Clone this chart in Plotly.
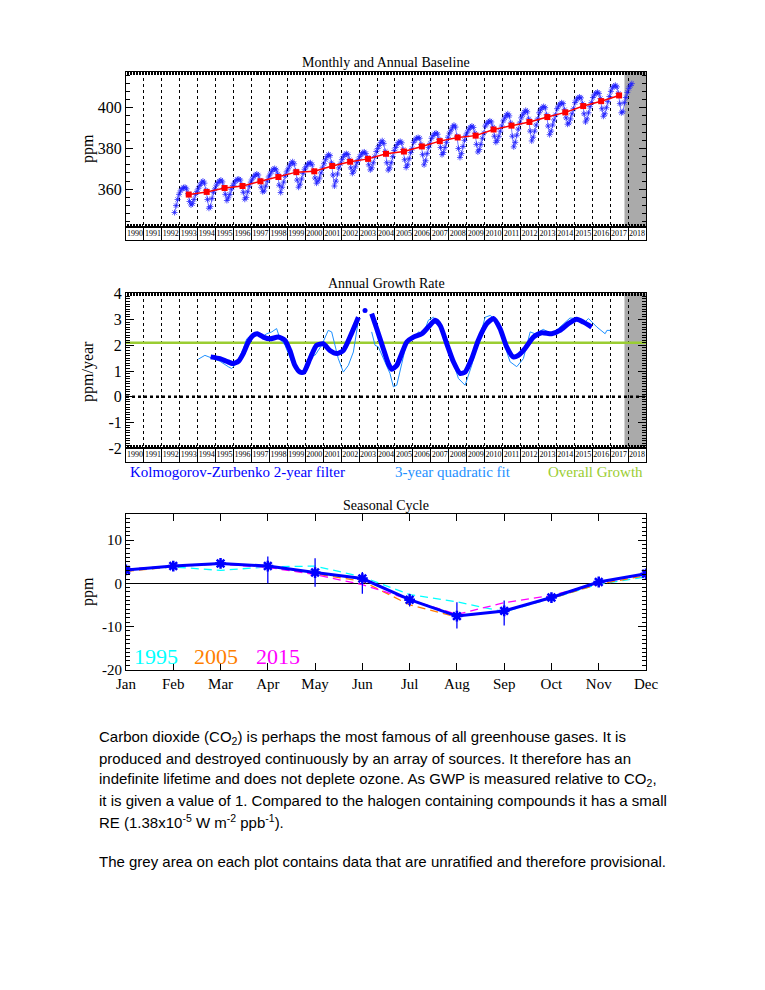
import plotly.graph_objects as go

W, H = 765, 990
SERIF = "Liberation Serif, Times New Roman, serif"
SANS = "Liberation Sans, Arial, sans-serif"

# ---------------- data ----------------
label_years = list(range(1990, 2019))
time_range = [1990, 2019]
provisional_from = 2017.8

monthly_start_year = 1992
monthly_start_month = 9
monthly_ppm = [
    348.6, 352.0, 355.0, 357.5,
    359.2, 360.3, 360.8, 361.0, 360.2, 357.8, 354.0, 352.3, 353.0, 355.0, 357.5, 359.0,
    360.5, 362.0, 363.2, 364.0, 363.0, 359.5, 355.0, 350.7, 351.5, 355.5, 358.5, 360.2,
    362.0, 363.3, 364.0, 364.5, 363.6, 361.0, 357.5, 354.5, 355.8, 357.5, 360.0, 361.8,
    363.0, 364.2, 364.8, 365.0, 364.5, 362.0, 358.5, 355.1, 356.0, 358.8, 361.5, 363.5,
    365.0, 366.2, 367.0, 367.5, 367.0, 364.5, 361.0, 358.8, 359.2, 361.5, 364.0, 366.0,
    367.5, 368.8, 369.8, 370.2, 369.5, 367.5, 362.0, 358.4, 361.0, 363.5, 366.5, 368.5,
    370.0, 371.5, 372.8, 373.5, 372.5, 369.0, 364.5, 361.0, 362.5, 365.0, 367.8, 369.8,
    371.0, 372.2, 372.8, 373.0, 372.0, 369.0, 365.5, 363.0, 364.0, 365.5, 368.0, 370.5,
    372.5, 374.5, 376.0, 377.0, 376.5, 373.0, 367.0, 361.6, 364.0, 367.5, 370.5, 372.5,
    374.5, 376.0, 377.0, 377.5, 377.0, 374.5, 370.5, 367.8, 369.0, 371.0, 373.0, 374.5,
    376.0, 377.2, 378.0, 378.3, 377.5, 375.5, 372.0, 369.5, 370.5, 373.0, 376.0, 378.5,
    380.0, 381.5, 383.0, 383.8, 382.5, 378.5, 373.0, 369.4, 370.5, 373.0, 376.0, 379.0,
    380.5, 382.0, 383.0, 383.5, 382.8, 379.5, 374.5, 370.7, 372.0, 375.0, 378.0, 380.0,
    383.0, 384.3, 385.0, 385.4, 385.0, 382.0, 377.0, 372.0, 374.0, 377.5, 380.5, 382.5,
    385.0, 386.3, 387.2, 387.6, 387.0, 384.5, 380.5, 377.0, 378.0, 380.5, 383.0, 385.5,
    387.5, 389.0, 390.5, 391.4, 390.5, 386.0, 380.0, 375.6, 377.5, 381.0, 384.0, 386.5,
    388.0, 389.5, 390.5, 391.0, 390.3, 387.5, 382.0, 378.3, 379.5, 382.0, 385.0, 387.5,
    391.0, 392.3, 393.0, 393.5, 393.0, 390.5, 386.0, 383.0, 384.0, 386.0, 388.5, 391.0,
    393.5, 395.0, 396.3, 397.0, 396.0, 392.5, 386.0, 380.8, 383.0, 386.5, 389.5, 392.5,
    395.0, 396.5, 397.8, 398.7, 398.0, 394.5, 388.5, 383.7, 385.5, 388.5, 391.5, 394.5,
    397.5, 399.0, 400.0, 400.6, 400.0, 396.5, 391.0, 386.8, 388.5, 391.5, 394.0, 396.5,
    399.5, 400.8, 401.8, 402.4, 402.0, 399.0, 395.0, 391.9, 392.5, 394.5, 397.0, 399.5,
    402.5, 403.8, 404.8, 405.2, 404.8, 402.0, 397.0, 393.0, 394.5, 397.5, 400.5, 402.5,
    405.0, 406.3, 407.2, 407.6, 407.0, 404.5, 399.5, 395.8, 397.0, 400.0, 403.0, 405.5,
    408.0, 409.8, 410.5, 411.0, 410.2, 407.0, 402.0, 397.5, 398.0, 402.5, 405.0, 407.5,
    409.5, 410.8, 411.8,
]

annual_years = list(range(1993, 2018))
annual_ppm = [357.4, 358.7, 360.6, 361.6, 363.9, 366.0, 368.4, 368.8, 371.4, 373.5,
              374.9, 377.4, 378.5, 381.0, 383.6, 385.4, 386.3, 389.3, 391.2, 393.0,
              395.4, 397.7, 400.8, 403.2, 406.0]

kz_year = [1994.72, 1995.24, 1995.61, 1995.95, 1996.27, 1996.54, 1996.82, 1997.10, 1997.33, 1997.66,
           1998.03, 1998.49, 1998.86, 1999.14, 1999.42, 1999.70, 1999.92, 2000.26, 2000.63, 2001.00,
           2001.37, 2001.75, 2002.12, 2002.49, 2002.96, None, 2003.33, None, 2003.70, 2003.98,
           2004.35, 2004.63, 2004.82, 2005.10, 2005.38, 2005.66, 2006.03, 2006.50, 2006.86, 2007.24,
           2007.52, 2007.89, 2008.26, 2008.63, 2008.91, 2009.28, 2009.65, 2010.12, 2010.49, 2010.86,
           2011.23, 2011.60, 2011.88, 2012.25, 2012.72, 2013.18, 2013.74, 2014.20, 2014.67, 2015.14,
           2015.51, 2015.97]
kz_rate = [1.55, 1.48, 1.38, 1.29, 1.38, 1.68, 2.13, 2.39, 2.45, 2.32,
           2.25, 2.32, 2.20, 1.80, 1.22, 0.96, 0.96, 1.48, 2.00, 2.06,
           1.80, 1.68, 1.80, 2.32, 3.09, None, 3.35, None, 3.23, 2.65,
           1.87, 1.29, 1.07, 1.22, 1.68, 2.13, 2.32, 2.45, 2.71, 2.97,
           2.77, 2.06, 1.36, 0.91, 0.96, 1.48, 2.20, 2.84, 3.04, 2.65,
           1.94, 1.55, 1.61, 1.87, 2.32, 2.49, 2.45, 2.58, 2.84, 3.01,
           2.90, 2.71]

fit_year = [1994.03, 1994.40, 1994.77, 1995.24, 1995.70, 1995.89, 1996.17, 1996.54, 1996.73, 1997.10,
            1997.57, 1997.85, 1998.13, 1998.40, 1998.59, 1998.87, 1999.24, 1999.61, 1999.98, 2000.26,
            2000.54, 2000.91, 2001.28, 2001.47, 2001.84, 2002.12, 2002.40, 2002.68, 2002.96, None,
            2003.70, 2003.89, 2004.07, 2004.44, 2004.72, 2004.91, 2005.10, 2005.38, 2005.66, 2006.03,
            2006.31, 2006.59, 2006.86, 2007.14, 2007.42, 2007.80, 2008.17, 2008.54, 2008.91, 2009.28,
            2009.65, 2010.03, 2010.31, 2010.68, 2011.05, 2011.42, 2011.79, 2012.16, 2012.54, 2012.81,
            2013.27, 2013.74, 2014.11, 2014.76, 2015.14, 2015.51, 2015.79, 2016.26, 2016.72, 2016.82,
            2017.00]
fit_rate = [1.46, 1.61, 1.51, 1.38, 1.17, 1.10, 1.29, 1.87, 2.25, 2.45,
            2.32, 2.45, 2.52, 2.65, 2.25, 2.00, 1.36, 0.96, 1.03, 1.68,
            1.61, 2.00, 2.58, 2.52, 1.48, 0.96, 1.22, 1.74, 2.96, None,
            2.52, 2.00, 1.94, 1.36, 0.91, 0.39, 0.45, 1.29, 2.13, 2.25,
            2.52, 2.45, 2.97, 3.09, 2.90, 2.13, 1.48, 0.71, 0.45, 1.22,
            2.13, 3.09, 3.16, 2.97, 2.13, 1.36, 1.17, 1.48, 2.52, 2.45,
            2.62, 2.45, 2.65, 3.06, 3.04, 2.84, 3.04, 2.71, 2.45, 2.58,
            2.58]

overall_growth = 2.1
rate_ticks = [-2, -1, 0, 1, 2, 3, 4]

months = ["Jan", "Feb", "Mar", "Apr", "May", "Jun", "Jul", "Aug", "Sep", "Oct", "Nov", "Dec"]
season_ticks = [-20, -10, 0, 10]
season_mean = [3.1, 4.0, 4.6, 4.0, 2.5, 1.1, -3.8, -7.6, -6.4, -3.3, 0.3, 2.2]
season_err_plus = [0.8, 0.6, 0.9, 2.2, 3.3, 1.5, 1.4, 3.2, 2.4, 0.8, 0.7, 0.8]
season_err_minus = [0.8, 0.6, 0.9, 4.0, 3.3, 3.5, 1.6, 2.9, 3.4, 0.8, 0.7, 0.8]
season_1995 = [3.0, 3.8, 3.0, 3.8, 4.0, 1.5, -2.6, -4.3, -6.6, -3.5, -0.2, 1.5]
season_2005 = [2.8, 3.8, 4.6, 3.8, 2.2, 0.5, -5.0, -7.8, -6.3, -3.5, -0.2, 1.8]
season_2015 = [3.3, 4.0, 4.4, 3.7, 2.0, -0.3, -3.8, -7.2, -4.5, -2.8, 0.0, 2.3]

# ---------------- helpers ----------------
OFF = 8  # page body margin of the saved html

def fx(p):
    return (p - OFF) / W

def fy(p):
    return 1 - (p - OFF) / H

X0, X1 = fx(126), fx(646)
BLUE = "#0000ff"
FITBLUE = "#1e90ff"
GREEN = "#9acd32"
GREY = "#aaaaaa"

fig = go.Figure()

# ---------------- panel 1 ----------------
monthly_x = [monthly_start_year + (monthly_start_month - 1 + i + 0.5) / 12 for i in range(len(monthly_ppm))]
fig.add_trace(go.Scatter(
    x=monthly_x, y=monthly_ppm, mode="lines+markers", xaxis="x", yaxis="y",
    line=dict(color="rgba(30,30,255,0.75)", width=0.8),
    marker=dict(symbol="asterisk-open", size=5, line=dict(color=BLUE, width=1)),
))
fig.add_trace(go.Scatter(
    x=[y + 0.5 for y in annual_years], y=annual_ppm, mode="lines+markers", xaxis="x", yaxis="y",
    line=dict(color="#ff0000", width=1.5),
    marker=dict(symbol="square", size=6, color="#ff0000"),
))
fig.add_trace(go.Scatter(
    x=[y + 0.5 for y in label_years], y=[0.5] * len(label_years), mode="text",
    text=[str(y) for y in label_years], textfont=dict(family=SERIF, size=8, color="black"),
    xaxis="x2", yaxis="y2",
))

# ---------------- panel 2 ----------------
fig.add_trace(go.Scatter(
    x=time_range, y=[overall_growth, overall_growth], mode="lines", xaxis="x3", yaxis="y3",
    line=dict(color=GREEN, width=2.5),
))
fig.add_trace(go.Scatter(
    x=fit_year, y=fit_rate, mode="lines", xaxis="x3", yaxis="y3",
    line=dict(color=FITBLUE, width=1), connectgaps=False,
))
fig.add_trace(go.Scatter(
    x=kz_year, y=kz_rate, mode="lines", xaxis="x3", yaxis="y3",
    line=dict(color=BLUE, width=5, shape="spline", smoothing=0.6), connectgaps=False,
))
iso_x, iso_y = [], []
for i, v in enumerate(kz_rate):
    if v is None:
        continue
    prev_none = i == 0 or kz_rate[i - 1] is None
    next_none = i == len(kz_rate) - 1 or kz_rate[i + 1] is None
    if prev_none and next_none:
        iso_x.append(kz_year[i])
        iso_y.append(v)
fig.add_trace(go.Scatter(
    x=iso_x, y=iso_y, mode="markers", xaxis="x3", yaxis="y3",
    marker=dict(color=BLUE, size=5, symbol="circle"),
))
fig.add_trace(go.Scatter(
    x=[y + 0.5 for y in label_years], y=[0.5] * len(label_years), mode="text",
    text=[str(y) for y in label_years], textfont=dict(family=SERIF, size=8, color="black"),
    xaxis="x4", yaxis="y4",
))

# ---------------- panel 3 ----------------
month_x = list(range(1, 13))
for vals, col in [(season_1995, "#00ffff"), (season_2005, "#ff7f00"), (season_2015, "#ff00ff")]:
    fig.add_trace(go.Scatter(
        x=month_x, y=vals, mode="lines", xaxis="x5", yaxis="y5",
        line=dict(color=col, width=1.3, dash="8px,5px"),
    ))
fig.add_trace(go.Scatter(
    x=month_x, y=season_mean, mode="lines+markers", xaxis="x5", yaxis="y5",
    line=dict(color=BLUE, width=3),
    marker=dict(symbol="asterisk-open", size=9, line=dict(color=BLUE, width=2.5)),
    error_y=dict(type="data", symmetric=False, array=season_err_plus, arrayminus=season_err_minus,
                 color=BLUE, thickness=1.3, width=0),
))

# ---------------- axes ----------------
tickfont16 = dict(family=SERIF, size=16, color="black")
tickfont15 = dict(family=SERIF, size=15, color="black")

def time_axis(anchor):
    return dict(
        domain=[X0, X1], range=time_range, anchor=anchor, showticklabels=False, automargin=False,
        tickmode="linear", tick0=1990, dtick=1, ticks="",
        showgrid=True, griddash="dot", gridcolor="black", gridwidth=1,
        minor=dict(tickmode="linear", tick0=1990, dtick=1 / 12, ticks="inside", ticklen=3,
                   tickcolor="black", tickwidth=1, showgrid=False),
        showline=True, linecolor="black", linewidth=1, mirror="ticks", zeroline=False,
    )

def year_row_x(anchor):
    return dict(
        domain=[X0, X1], range=time_range, anchor=anchor, showticklabels=False, automargin=False,
        tickmode="linear", tick0=1990, dtick=1, ticks="",
        showgrid=True, gridcolor="black", gridwidth=1,
        showline=True, linecolor="black", linewidth=1, mirror=True, zeroline=False,
    )

def year_row_y(anchor, top, bottom):
    return dict(
        domain=[fy(bottom), fy(top)], range=[0, 1], anchor=anchor, showticklabels=False,
        automargin=False, ticks="", showgrid=False, zeroline=False,
        showline=True, linecolor="black", linewidth=1, mirror=True,
    )

fig.update_layout(
    template="none",
    width=W, height=H, margin=dict(l=0, r=0, t=0, b=0, pad=0, autoexpand=False),
    paper_bgcolor="white", plot_bgcolor="white", showlegend=False,
    xaxis=time_axis("y"),
    yaxis=dict(
        domain=[fy(227), fy(72)], range=[341.5, 417.5], anchor="x", automargin=False,
        tickmode="linear", tick0=0, dtick=20, ticks="inside", ticklen=7, tickcolor="black",
        minor=dict(tickmode="linear", tick0=0, dtick=4, ticks="inside", ticklen=4, tickcolor="black"),
        showgrid=False, zeroline=False, showline=True, linecolor="black", mirror="ticks",
        tickfont=tickfont16,
    ),
    xaxis2=year_row_x("y2"),
    yaxis2=year_row_y("x2", 227, 240),
    xaxis3=time_axis("y3"),
    yaxis3=dict(
        domain=[fy(448.3), fy(293.3)], range=[-2.0, 4.02], anchor="x3", automargin=False,
        tickmode="array", tickvals=rate_ticks, ticktext=[str(v) for v in rate_ticks],
        ticks="inside", ticklen=8, tickcolor="black",
        minor=dict(tickmode="linear", tick0=0, dtick=0.1, ticks="inside", ticklen=4, tickcolor="black"),
        showgrid=False, zeroline=False, showline=True, linecolor="black", mirror="ticks",
        tickfont=tickfont16,
    ),
    xaxis4=year_row_x("y4"),
    yaxis4=year_row_y("x4", 448.3, 461.7),
    xaxis5=dict(
        domain=[X0, X1], range=[1, 12], anchor="y5", automargin=False,
        tickmode="array", tickvals=month_x, ticktext=months,
        ticks="inside", ticklen=7, tickcolor="black",
        showgrid=False, zeroline=False, showline=True, linecolor="black", mirror="ticks",
        tickfont=tickfont15,
    ),
    yaxis5=dict(
        domain=[fy(670), fy(514.3)], range=[-20.1, 16], anchor="x5", automargin=False,
        tickmode="array", tickvals=season_ticks, ticktext=[str(v) for v in season_ticks],
        ticks="inside", ticklen=8, tickcolor="black",
        minor=dict(tickmode="linear", tick0=0, dtick=1, ticks="inside", ticklen=4, tickcolor="black"),
        showgrid=False, zeroline=True, zerolinecolor="black", zerolinewidth=1,
        showline=True, linecolor="black", mirror="ticks", tickfont=tickfont15,
    ),
)

# ---------------- shapes ----------------
shapes = []
for xr, yr in [("x", "y domain"), ("x3", "y3 domain")]:
    shapes.append(dict(type="rect", xref=xr, yref=yr, x0=provisional_from, x1=time_range[1],
                       y0=0, y1=1, fillcolor=GREY, line=dict(width=0), layer="below"))
shapes.append(dict(type="line", xref="x3 domain", yref="y3", x0=0, x1=1, y0=0, y1=0,
                   line=dict(color="black", width=2.5, dash="dot"), layer="above"))
fig.update_layout(shapes=shapes)

# ---------------- annotations ----------------
ann = []
def text(x, y, s, size, family=SERIF, color="black", xanchor="center", angle=0):
    ann.append(dict(x=fx(x), y=fy(y), xref="paper", yref="paper", text=s, showarrow=False,
                    xanchor=xanchor, yanchor="middle", textangle=angle,
                    font=dict(family=family, size=size, color=color)))

text(386, 62, "Monthly and Annual Baseline", 14)
text(386, 283, "Annual Growth Rate", 14)
text(386, 505, "Seasonal Cycle", 14)
text(88, 149, "ppm", 16, angle=-90)
text(88, 372, "ppm/year", 16, angle=-90)
text(88, 592, "ppm", 16, angle=-90)
text(128, 472, "Kolmogorov-Zurbenko 2-year filter", 15, color=BLUE, xanchor="left")
text(393, 472, "3-year quadratic fit", 15, color=FITBLUE, xanchor="left")
text(645, 472, "Overall Growth", 15, color=GREEN, xanchor="right")
text(132, 656, "1995", 22, color="#00ffff", xanchor="left")
text(192, 656, "2005", 22, color="#ff7f00", xanchor="left")
text(254, 656, "2015", 22, color="#ff00ff", xanchor="left")

para_lines = [
    "Carbon dioxide (CO<sub>2</sub>) is perhaps the most famous of all greenhouse gases. It is",
    "produced and destroyed continuously by an array of sources. It therefore has an",
    "indefinite lifetime and does not deplete ozone. As GWP is measured relative to CO<sub>2</sub>,",
    "it is given a value of 1. Compared to the halogen containing compounds it has a small",
    "RE (1.38x10<sup>-5</sup> W m<sup>-2</sup> ppb<sup>-1</sup>).",
]
for i, line in enumerate(para_lines):
    text(97, 737 + 21 * i, line, 15, family=SANS, xanchor="left")
text(97, 861, "The grey area on each plot contains data that are unratified and therefore provisional.",
     15, family=SANS, xanchor="left")

fig.update_layout(annotations=ann)

fig.write_html("out.html")
